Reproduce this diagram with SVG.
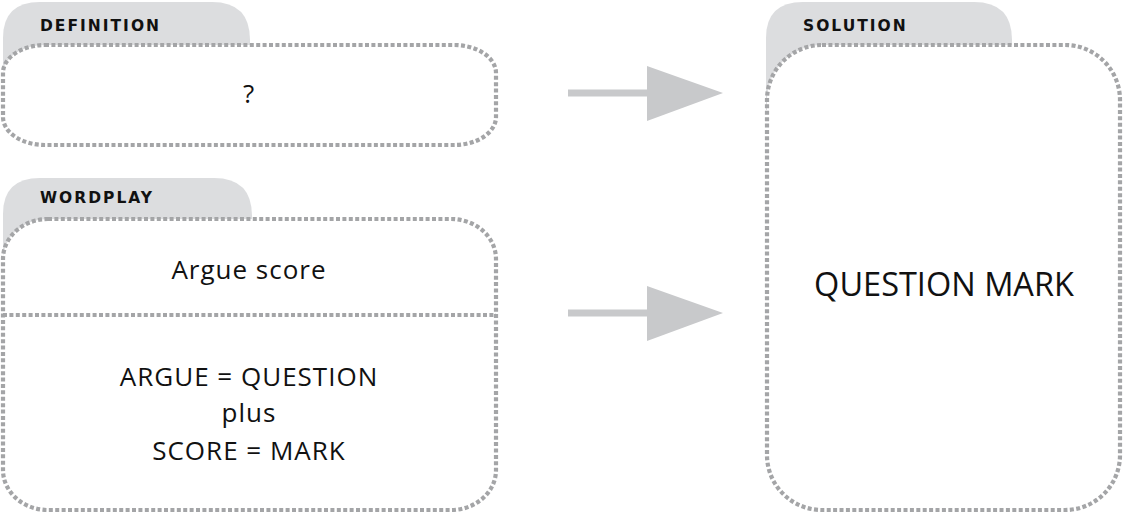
<svg xmlns="http://www.w3.org/2000/svg" width="1124" height="515" viewBox="0 0 1124 515">
<style>
.tab{fill:#dcdddf}
.box{fill:#fff;stroke:#a4a5a7;stroke-width:4.2;stroke-dasharray:4 2.4}
.div{stroke:#a4a5a7;stroke-width:4.2;stroke-dasharray:4 2.4;fill:none}
.lbl{font-family:"DejaVu Sans",sans-serif;font-weight:bold;font-size:15.5px;letter-spacing:2px;fill:#111}
.txt{font-family:"Open Sans",sans-serif;font-size:26px;letter-spacing:1px;fill:#111;text-anchor:middle}
.big{font-family:"Open Sans",sans-serif;font-size:32.5px;fill:#111;text-anchor:middle}
.arr{fill:#c8c9cb}
</style>
<g id="definition">
<path class="tab" d="M3,90 V38 Q3,2 40,2 H212 Q250,2 250,40 V90 Z"/>
<rect class="box" x="3" y="45" width="493" height="100" rx="42" ry="28"/>
<text class="lbl" x="40" y="31">DEFINITION</text>
<text class="txt" x="249" y="103">?</text>
</g>
<g id="wordplay">
<path class="tab" d="M3,270 V214 Q3,178 40,178 H214 Q252,178 252,216 V270 Z"/>
<rect class="box" x="3" y="219" width="493" height="291" rx="45" ry="40"/>
<line class="div" x1="3" y1="315" x2="496" y2="315"/>
<text class="lbl" x="40" y="203">WORDPLAY</text>
<text class="txt" x="249" y="279">Argue score</text>
<text class="txt" x="249" y="386">ARGUE = QUESTION</text>
<text class="txt" x="249" y="422">plus</text>
<text class="txt" x="249" y="460">SCORE = MARK</text>
</g>
<g id="solution">
<path class="tab" d="M766,110 V38 Q766,2 803,2 H974 Q1012,2 1012,40 V110 Z"/>
<rect class="box" x="767" y="45" width="353" height="465" rx="55" ry="55"/>
<text class="lbl" x="803" y="31">SOLUTION</text>
<text class="big" x="944" y="296">QUESTION MARK</text>
</g>
<g id="connectors">
<rect class="arr" x="568" y="89.5" width="82" height="7"/>
<polygon class="arr" points="647,66 723,93 647,121"/>
<rect class="arr" x="568" y="309.5" width="82" height="7"/>
<polygon class="arr" points="647,286 723,313 647,341"/>
</g>
</svg>
